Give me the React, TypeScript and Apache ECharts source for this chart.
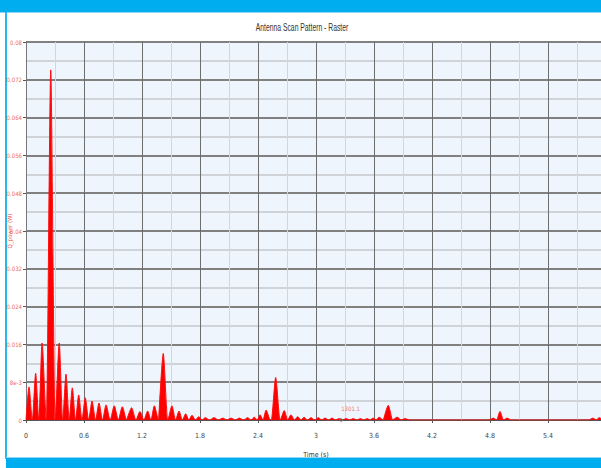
import React, { useEffect, useRef } from "react";
import * as echarts from "echarts";

const chartTitle = "Antenna Scan Pattern - Raster";
const xAxisName = "Time (s)";
const yAxisName = "Q_power (W)";

// Lobe peak times (s) and heights
const lobeTimes = [
  0.031, 0.1, 0.166, 0.256, 0.344, 0.414, 0.479, 0.545, 0.613, 0.683, 0.755, 0.828, 0.913, 0.996,
  1.093, 1.179, 1.259, 1.327, 1.42, 1.51, 1.583, 1.652, 1.717, 1.787, 1.855, 1.945, 2.035, 2.121,
  2.207, 2.293, 2.362, 2.421, 2.483, 2.583, 2.672, 2.741, 2.811, 2.876, 2.948, 3.024, 3.093, 3.166,
  3.238, 3.31, 3.385, 3.46, 3.53, 3.59, 3.652, 3.748, 3.841, 3.921, 4.834, 4.903, 4.976, 5.866, 5.93,
];
const lobeHeights = [
  0.007, 0.0099, 0.0163, 0.0741, 0.0163, 0.0097, 0.0068, 0.0053, 0.0047, 0.004, 0.0036, 0.0032, 0.003, 0.0028,
  0.0026, 0.0018, 0.0019, 0.003, 0.0141, 0.003, 0.0019, 0.0013, 0.001, 0.0007, 0.0005, 0.0005, 0.0004, 0.0004,
  0.0004, 0.0005, 0.0006, 0.0011, 0.0021, 0.009, 0.002, 0.0011, 0.0007, 0.0006, 0.0005, 0.0005, 0.0004, 0.0004,
  0.0003, 0.0003, 0.0003, 0.0003, 0.0003, 0.0004, 0.0006, 0.0031, 0.0006, 0.0003, 0.0004, 0.0018, 0.0004, 0.0004, 0.0005,
];

const xMin = 0;
const xMax = 6;
const xInterval = 0.6;
const yMin = 0;
const yMax = 0.08;
const yInterval = 0.008;
const yTickLabels = ["0", "8e-3", "0.016", "0.024", "0.032", "0.04", "0.048", "0.056", "0.064", "0.072", "0.08"];

const annotationTimes = [3.26];
const annotationValues = [0];
const annotationLabels = ["1301.1"];

function buildArea(): number[][] {
  const maxHalf = 0.045;
  const pts: number[][] = [[xMin, 0]];
  for (let i = 0; i < lobeTimes.length; i++) {
    const t = lobeTimes[i];
    const prev = i > 0 ? (lobeTimes[i - 1] + t) / 2 : xMin;
    const next = i < lobeTimes.length - 1 ? (lobeTimes[i + 1] + t) / 2 : xMax;
    const left = Math.max(prev, t - maxHalf, xMin);
    const right = Math.min(next, t + maxHalf, xMax);
    pts.push([left, 0], [t, lobeHeights[i]], [right, 0]);
  }
  pts.push([xMax, 0]);
  return pts;
}

const narrow = "'Liberation Sans Narrow', 'DejaVu Sans Condensed', 'Liberation Sans', sans-serif";

export default function App() {
  const ref = useRef<HTMLDivElement>(null);
  useEffect(() => {
    if (!ref.current) return;
    const chart = echarts.init(ref.current, null, { renderer: "svg" });
    chart.setOption({
      animation: false,
      backgroundColor: "#ffffff",
      graphic: [
        { type: "rect", shape: { x: 0, y: 0, width: 606, height: 12 }, style: { fill: "#00AEEF" } },
        { type: "rect", shape: { x: 0, y: 12, width: 606, height: 1 }, style: { fill: "#8fd6f4" } },
        { type: "rect", shape: { x: 5, y: 12, width: 2, height: 447 }, style: { fill: "#2bb6ee" } },
        { type: "rect", shape: { x: 6, y: 457, width: 600, height: 1 }, style: { fill: "#8fd6f4" } },
        { type: "rect", shape: { x: 6, y: 458, width: 600, height: 10 }, style: { fill: "#00AEEF" } },
        {
          type: "text",
          x: 302,
          y: 27,
          scaleX: 0.68,
          style: {
            text: chartTitle,
            fill: "#333",
            fontFamily: "'Liberation Sans', sans-serif",
            fontSize: 10,
            align: "center",
            verticalAlign: "middle",
          },
        },
      ],
      grid: {
        left: 26,
        top: 42,
        bottom: 48,
        right: 0,
        outerBoundsMode: "none",
        containLabel: false,
        show: true,
        backgroundColor: "#EEF5FD",
        borderWidth: 0,
      },
      xAxis: {
        type: "value",
        min: xMin,
        max: xMax,
        interval: xInterval,
        name: xAxisName,
        nameLocation: "middle",
        nameGap: 31,
        nameMoveOverlap: false,
        nameTextStyle: { fontFamily: narrow, fontSize: 7, color: "#333" },
        axisLine: { show: true, lineStyle: { color: "#555", width: 1 } },
        axisTick: { show: true, length: 3, lineStyle: { color: "#555" } },
        axisLabel: { fontFamily: narrow, fontSize: 7, color: "#444", margin: 12, showMaxLabel: false },
        splitLine: { show: true, lineStyle: { color: "#6e6e6e", width: 1 } },
        minorTick: { show: false, splitNumber: 2 },
        minorSplitLine: { show: true, lineStyle: { color: "#d2d6da", width: 1 } },
      },
      yAxis: {
        type: "value",
        min: yMin,
        max: yMax,
        interval: yInterval,
        name: yAxisName,
        nameLocation: "middle",
        nameGap: 14,
        nameRotate: 90,
        nameMoveOverlap: false,
        nameTextStyle: { fontFamily: narrow, fontSize: 6, color: "#f05a5a" },
        axisLine: { show: true, lineStyle: { color: "#777", width: 1 } },
        axisTick: { show: true, length: 3, lineStyle: { color: "#555" } },
        axisLabel: {
          fontFamily: narrow,
          fontSize: 6,
          color: "#f06a6a",
          margin: 4,
          formatter: (v: number) => yTickLabels[Math.round(v / yInterval)] ?? String(v),
        },
        splitLine: { show: true, lineStyle: { color: "#808080", width: 2 } },
        minorTick: { show: false, splitNumber: 2 },
        minorSplitLine: { show: true, lineStyle: { color: "#cfd3d8", width: 2 } },
      },
      series: [
        {
          type: "line",
          data: buildArea(),
          symbol: "none",
          smooth: 0.25,
          smoothMonotone: "x",
          lineStyle: { color: "#ff1010", width: 1 },
          areaStyle: { color: "#ff0000", opacity: 1 },
          z: 3,
        },
        {
          type: "scatter",
          data: annotationTimes.map((t, i) => [t, annotationValues[i]]),
          symbol: "circle",
          symbolSize: 3,
          itemStyle: { color: "transparent", borderColor: "#777", borderWidth: 1 },
          label: {
            show: true,
            position: [2, -13],
            formatter: (p: any) => annotationLabels[p.dataIndex],
            fontFamily: narrow,
            fontSize: 6,
            color: "#f05050",
          },
          z: 4,
        },
      ],
    });
    return () => chart.dispose();
  }, []);
  return (
    <div style={{ position: "fixed", left: 0, top: 0, width: 601, height: 468, overflow: "hidden", background: "#fff" }}>
      <div ref={ref} style={{ width: 606, height: 468 }} />
    </div>
  );
}
